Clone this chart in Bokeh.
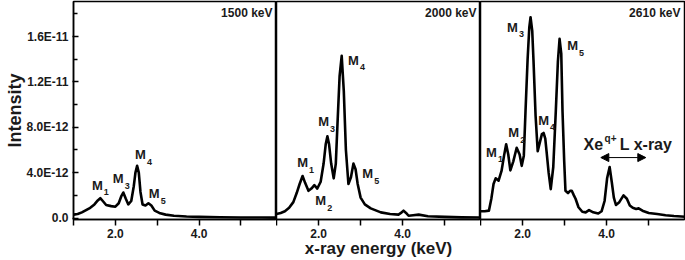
from bokeh.plotting import figure
from bokeh.layouts import row
from bokeh.models import Range1d, FixedTicker, Label, Arrow, NormalHead
from bokeh.embed import file_html
from bokeh.resources import INLINE

# ---------------- data (intensity in units of 1e-12) ----------------
energy_1500 = [1.0, 1.1, 1.2, 1.3, 1.4, 1.5, 1.58, 1.64, 1.7, 1.78, 1.9, 2.0, 2.08, 2.14, 2.19,
               2.25, 2.31, 2.38, 2.44, 2.48, 2.52, 2.56, 2.6, 2.65, 2.72, 2.79, 2.86, 2.94, 3.05,
               3.2, 3.4, 3.7, 4.0, 4.5, 5.0, 5.5, 5.9]
intensity_1500 = [0.3, 0.35, 0.5, 0.7, 0.9, 1.2, 1.55, 1.75, 1.5, 1.15, 1.05, 1.0, 1.3, 1.9, 2.25,
                  1.7, 1.2, 1.5, 2.8, 4.0, 4.6, 4.0, 2.3, 1.2, 1.1, 1.3, 1.1, 0.65, 0.45,
                  0.3, 0.2, 0.13, 0.1, 0.07, 0.05, 0.04, 0.03]

energy_2000 = [1.0, 1.1, 1.2, 1.3, 1.4, 1.48, 1.55, 1.62, 1.68, 1.76, 1.83, 1.9, 1.97, 2.05, 2.12,
               2.17, 2.21, 2.25, 2.3, 2.36, 2.41, 2.45, 2.5, 2.55, 2.6, 2.65, 2.71, 2.77, 2.83,
               2.88, 2.93, 3.0, 3.1, 3.24, 3.48, 3.7, 3.9, 3.96, 4.02, 4.08, 4.14, 4.25, 4.38,
               4.6, 5.0, 5.4, 5.9]
intensity_2000 = [0.35, 0.45, 0.6, 0.9, 1.4, 2.2, 3.0, 3.7, 3.1, 2.4, 2.6, 2.9, 2.6, 3.2, 4.8,
                  6.5, 7.2, 6.5, 4.8, 3.5, 4.8, 8.3, 12.5, 14.3, 11.2, 6.0, 3.0, 3.6, 4.8,
                  4.3, 3.0, 1.8, 1.2, 0.85, 0.5, 0.35, 0.3, 0.45, 0.65, 0.45, 0.2, 0.25, 0.3,
                  0.15, 0.1, 0.06, 0.05]

energy_2610 = [1.0, 1.1, 1.2, 1.26, 1.31, 1.36, 1.43, 1.5, 1.56, 1.61, 1.66, 1.71, 1.78, 1.86,
               1.93, 1.98, 2.03, 2.07, 2.12, 2.16, 2.19, 2.23, 2.26, 2.31, 2.36, 2.42, 2.46,
               2.5, 2.54, 2.57, 2.62, 2.67, 2.73, 2.79, 2.84, 2.88, 2.92, 2.95, 2.99, 3.02,
               3.08, 3.13, 3.17, 3.22, 3.26, 3.33, 3.42, 3.5, 3.58, 3.68, 3.8, 3.88, 3.95,
               4.01, 4.07, 4.12, 4.17, 4.22, 4.3, 4.4, 4.48, 4.55, 4.62, 4.7, 4.76, 4.85,
               5.0, 5.2, 5.4, 5.6, 5.9]
intensity_2610 = [0.6, 0.6, 0.65, 1.75, 3.0, 3.5, 3.3, 4.15, 5.5, 6.5, 5.6, 4.2, 5.0, 6.2,
                  5.6, 4.6, 5.5, 9.4, 14.0, 16.8, 17.7, 16.5, 13.9, 9.0, 5.9, 6.8, 7.4,
                  7.5, 7.0, 5.9, 4.0, 2.55, 4.5, 9.4, 13.8, 15.8, 14.5, 9.4, 5.0, 2.4,
                  2.2, 2.4, 2.4, 2.0, 1.7, 0.95, 0.55, 0.5, 0.7, 0.5, 0.4, 0.6, 1.5,
                  3.5, 4.5, 3.2, 1.8, 1.15, 1.4, 2.0, 1.7, 1.1, 0.9, 0.8, 0.85, 0.65,
                  0.45, 0.35, 0.25, 0.18, 0.1]

panel_titles = ["1500 keV", "2000 keV", "2610 keV"]
x_ticks = [1, 2, 3, 4, 5]
x_tick_labels = ["", "2.0", "", "4.0", ""]
y_ticks = [0, 4, 8, 12, 16]
y_minor_ticks = [2, 6, 10, 14, 18]
y_tick_labels = ["0.0", "4.0E-12", "8.0E-12", "1.2E-11", "1.6E-11"]
x_title = "x-ray energy (keV)"
y_title = "Intensity"

# peak labels: (panel index, subscript, x, y)
peak_labels = [
    (0, "1", 1.57, 2.87), (0, "3", 2.07, 3.48), (0, "4", 2.60, 5.6), (0, "5", 2.93, 2.16),
    (1, "1", 1.62, 4.89), (1, "2", 2.05, 1.54), (1, "3", 2.12, 8.51), (1, "4", 2.83, 13.89),
    (1, "5", 3.17, 3.92),
    (2, "1", 1.26, 5.78), (2, "2", 1.79, 7.54), (2, "3", 1.76, 16.8), (2, "4", 2.50, 8.6),
    (2, "5", 3.19, 15.2),
]

FONT = "Liberation Sans"
TXT = "#1a1a1a"
X_RANGE = (1.0, 5.85)
Y_RANGE = (-0.13, 19.09)


def make_panel(width, left, right, show_y, xlabel):
    p = figure(width=width, height=260, x_range=Range1d(*X_RANGE), y_range=Range1d(*Y_RANGE),
               output_backend="svg", toolbar_location=None,
               y_axis_location="left" if show_y else None,
               min_border_left=left, min_border_right=right, min_border_top=1,
               min_border_bottom=30)
    p.xgrid.visible = False
    p.ygrid.visible = False
    p.outline_line_color = "black"
    p.outline_line_width = 1.5
    p.outline_line_alpha = 1.0
    p.background_fill_color = "white"
    p.border_fill_color = "white"
    ax = p.xaxis[0]
    ax.ticker = FixedTicker(ticks=x_ticks, minor_ticks=[])
    ax.major_label_overrides = {t: l for t, l in zip(x_ticks, x_tick_labels)}
    ax.major_tick_in = 0
    ax.major_tick_out = 6
    ax.minor_tick_in = 0
    ax.minor_tick_out = 0
    ax.axis_line_width = 1.5
    ax.major_tick_line_width = 1.5
    ax.major_label_standoff = 3
    ax.major_label_text_font = FONT
    ax.major_label_text_font_style = "bold"
    ax.major_label_text_font_size = "12px"
    ax.major_label_text_color = TXT
    ax.axis_label = xlabel
    ax.axis_label_standoff = -2
    ax.axis_label_text_font = FONT
    ax.axis_label_text_font_style = "bold"
    ax.axis_label_text_font_size = "17px"
    ax.axis_label_text_color = TXT
    if show_y:
        ay = p.yaxis[0]
        ay.ticker = FixedTicker(ticks=y_ticks, minor_ticks=y_minor_ticks)
        ay.major_label_overrides = {t: l for t, l in zip(y_ticks, y_tick_labels)}
        ay.major_tick_in = 5
        ay.major_tick_out = 1
        ay.minor_tick_in = 4
        ay.minor_tick_out = 0
        ay.axis_line_width = 1.5
        ay.major_tick_line_width = 1.5
        ay.minor_tick_line_width = 1.5
        ay.major_label_standoff = 4
        ay.major_label_text_font = FONT
        ay.major_label_text_font_style = "bold"
        ay.major_label_text_font_size = "12px"
        ay.major_label_text_color = TXT
        ay.axis_label = y_title
        ay.axis_label_standoff = -2
        ay.axis_label_text_font = FONT
        ay.axis_label_text_font_style = "bold"
        ay.axis_label_text_font_size = "18px"
        ay.axis_label_text_color = TXT
    return p


p1 = make_panel(276, 73, 0, True, " ")
p2 = make_panel(204, 0, 0, False, x_title)
p3 = make_panel(205, 0, 1, False, " ")
panels = [p1, p2, p3]

for p, xs, ys in zip(panels, [energy_1500, energy_2000, energy_2610],
                     [intensity_1500, intensity_2000, intensity_2610]):
    p.line(xs, ys, line_color="black", line_width=2.6, line_join="round")

for p, t in zip(panels, panel_titles):
    p.add_layout(Label(x=X_RANGE[1], y=18.1, text=t, x_offset=-4, text_align="right",
                       text_baseline="middle", text_font=FONT, text_font_style="bold",
                       text_font_size="12px", text_color=TXT))

for idx, sub, x, y in peak_labels:
    p = panels[idx]
    p.add_layout(Label(x=x, y=y, text="M", text_align="center", text_baseline="middle",
                       text_font=FONT, text_font_style="bold", text_font_size="13px",
                       text_color=TXT))
    p.add_layout(Label(x=x, y=y, text=sub, x_offset=9, y_offset=-7, text_align="center",
                       text_baseline="middle", text_font=FONT, text_font_style="bold",
                       text_font_size="9px", text_color=TXT))

# Xe L x-ray annotation
p3.add_layout(Label(x=3.45, y=6.44, text="Xe", text_align="left", text_baseline="alphabetic",
                    text_font=FONT, text_font_style="bold", text_font_size="16px",
                    text_color=TXT))
p3.add_layout(Label(x=3.95, y=6.97, text="q+", text_align="left", text_baseline="alphabetic",
                    text_font=FONT, text_font_style="bold", text_font_size="10px",
                    text_color=TXT))
p3.add_layout(Label(x=4.31, y=6.44, text="L x-ray", text_align="left",
                    text_baseline="alphabetic", text_font=FONT, text_font_style="bold",
                    text_font_size="16px", text_color=TXT))
p3.add_layout(Arrow(start=NormalHead(size=8, fill_color="black", line_color="black"),
                    end=NormalHead(size=8, fill_color="black", line_color="black"),
                    x_start=3.86, y_start=5.33, x_end=4.93, y_end=5.33,
                    line_color="black", line_width=1))

layout = row(p1, p2, p3)
open("out.html", "w").write(file_html(layout, INLINE))
